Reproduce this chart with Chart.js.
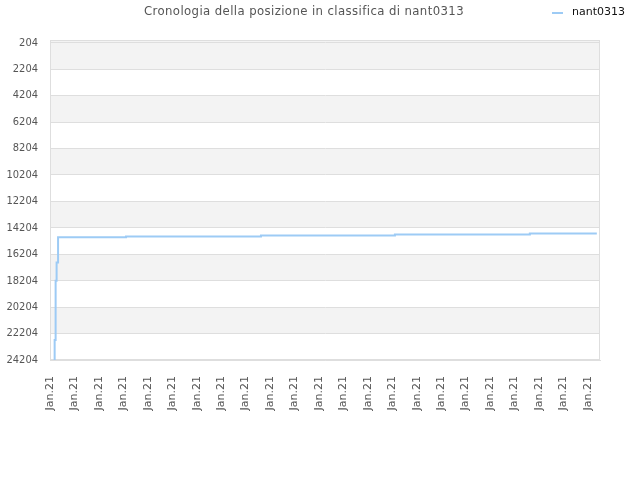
<!DOCTYPE html>
<html>
<head>
<meta charset="utf-8">
<title>Cronologia della posizione in classifica di nant0313</title>
<script src="https://cdn.jsdelivr.net/npm/chart.js@4.4.1/dist/chart.umd.min.js"></script>
<style>
    html, body { margin: 0; padding: 0; background: #fff; }
    #wrap { width: 640px; height: 480px; }
</style>
</head>
<body>
<div id="wrap"><canvas id="rankChart" width="640" height="480"></canvas></div>
<script>
// --- Data ---
const chartTitle = 'Cronologia della posizione in classifica di nant0313';
const seriesName = 'nant0313';

// x positions in "tick units" (one unit = one Jan.21 label)
const stepX = [0.19, 0.19, 0.23, 0.27, 0.33, 3.11, 8.63, 14.11, 19.63, 22.37];
const rankValues = [24204, 22690, 18215, 16830, 14917, 14857, 14781, 14705, 14629, 14629];

const xTickLabels = [
    'Jan.21', 'Jan.21', 'Jan.21', 'Jan.21', 'Jan.21', 'Jan.21', 'Jan.21', 'Jan.21',
    'Jan.21', 'Jan.21', 'Jan.21', 'Jan.21', 'Jan.21', 'Jan.21', 'Jan.21', 'Jan.21',
    'Jan.21', 'Jan.21', 'Jan.21', 'Jan.21', 'Jan.21', 'Jan.21', 'Jan.21'
];
const yTicks = [204, 2204, 4204, 6204, 8204, 10204, 12204, 14204, 16204, 18204, 20204, 22204, 24204];

const lineColor = '#9dcbf5';
const gridColor = '#dedede';
const bandColor = '#f3f3f3';
const fontFamily = '"DejaVu Sans", sans-serif';
const narrowFamily = '"DejaVu Sans Condensed", "DejaVu Sans", sans-serif';

// --- Alternating background bands + plot frame ---
const bandsPlugin = {
    id: 'bands',
    beforeDraw(chart) {
        const { ctx, chartArea: a, scales: { y } } = chart;
        ctx.save();
        ctx.fillStyle = bandColor;
        // top sliver above first tick plus every other interval
        const edges = [y.min].concat(yTicks);
        for (let i = 0; i < edges.length - 1; i++) {
            const grey = i === 0 || (i % 2 === 1);
            if (!grey) continue;
            const y1 = y.getPixelForValue(edges[i]);
            const y2 = y.getPixelForValue(edges[i + 1]);
            ctx.fillRect(a.left, Math.min(y1, y2), a.right - a.left, Math.abs(y2 - y1));
        }
        ctx.restore();
    },
    beforeDatasetsDraw(chart) {
        const { ctx, chartArea: a } = chart;
        ctx.save();
        ctx.strokeStyle = gridColor;
        ctx.lineWidth = 1;
        ctx.strokeRect(a.left + 0.5, a.top + 0.5, a.right - a.left - 1, a.bottom - a.top - 1);
        ctx.restore();
    }
};

// --- Title and legend drawn in the header ---
const headerPlugin = {
    id: 'header',
    afterDraw(chart) {
        const { ctx } = chart;
        ctx.save();
        ctx.textBaseline = 'middle';
        ctx.fillStyle = '#555';
        ctx.font = '13px ' + narrowFamily;
        ctx.letterSpacing = '0.4px';
        ctx.textAlign = 'center';
        ctx.fillText(chartTitle, 304, 12);
        ctx.letterSpacing = '0px';

        ctx.strokeStyle = lineColor;
        ctx.lineWidth = 2;
        ctx.beginPath();
        ctx.moveTo(552, 13);
        ctx.lineTo(563, 13);
        ctx.stroke();

        ctx.fillStyle = '#111';
        ctx.font = '11px ' + fontFamily;
        ctx.textAlign = 'left';
        ctx.fillText(seriesName, 572, 12);
        ctx.restore();
    }
};

const points = stepX.map((x, i) => ({ x: x, y: rankValues[i] }));

new Chart(document.getElementById('rankChart'), {
    type: 'line',
    data: {
        datasets: [{
            label: seriesName,
            data: points,
            borderColor: lineColor,
            borderWidth: 2,
            pointRadius: 0,
            stepped: true,
            fill: false
        }]
    },
    options: {
        responsive: false,
        animation: false,
        layout: { padding: { top: 40, right: 40, left: 0, bottom: 0 } },
        plugins: {
            legend: { display: false },
            title: { display: false },
            tooltip: { enabled: false }
        },
        scales: {
            x: {
                type: 'linear',
                min: 0,
                max: 22.5,
                afterBuildTicks: (scale) => {
                    scale.ticks = xTickLabels.map((_, i) => ({ value: i }));
                },
                afterFit: (scale) => { scale.height = 120; },
                ticks: {
                    autoSkip: false,
                    minRotation: 90,
                    maxRotation: 90,
                    padding: 8,
                    color: '#555',
                    font: { family: fontFamily, size: 11 },
                    callback: (v, i) => xTickLabels[i]
                },
                grid: { display: false },
                border: { display: true, color: gridColor }
            },
            y: {
                type: 'linear',
                reverse: true,
                min: 0,
                max: 24204,
                afterBuildTicks: (scale) => {
                    scale.ticks = yTicks.map(v => ({ value: v }));
                },
                afterFit: (scale) => { scale.width = 50; },
                ticks: {
                    padding: 12,
                    color: '#555',
                    font: { family: narrowFamily, size: 11 },
                    callback: (v) => String(v)
                },
                grid: { color: gridColor, drawTicks: false },
                border: { display: true, color: gridColor }
            }
        }
    },
    plugins: [bandsPlugin, headerPlugin]
});
</script>
</body>
</html>
